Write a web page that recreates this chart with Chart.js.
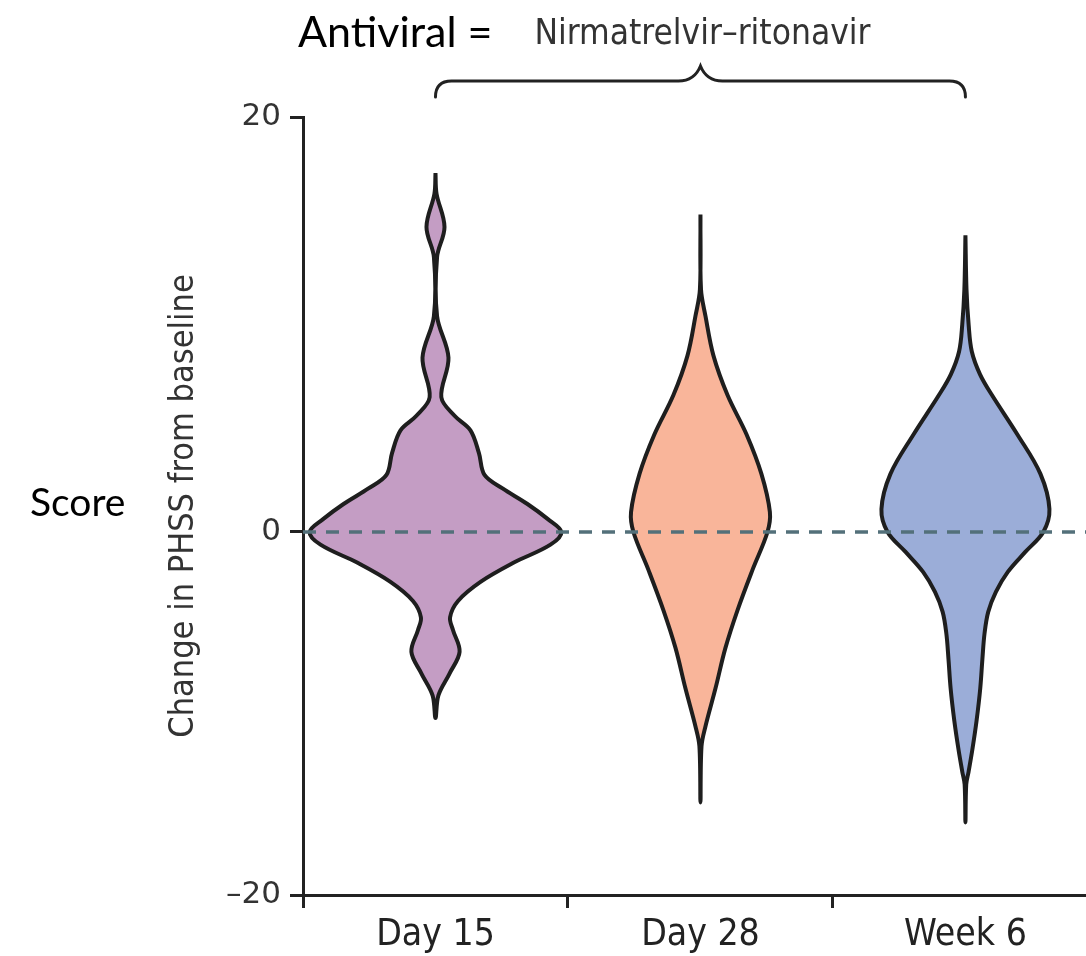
<!DOCTYPE html>
<html>
<head>
<meta charset="utf-8">
<script src="https://cdn.jsdelivr.net/npm/chart.js@4.4.1/dist/chart.umd.min.js"></script>
<style>
  html, body { margin: 0; padding: 0; background: #fff; }
  #wrap { width: 1086px; height: 956px; position: relative; }
</style>
</head>
<body>
<div id="wrap"><canvas id="violin"></canvas></div>
<script>
// x categories and y ticks
const timepoints = ['Day 15', 'Day 28', 'Week 6'];
const yTicks = [-20, 0, 20];

// violin outlines: score level (top -> bottom) and half width at that level (in category units)
const day15Levels = [17.3, 16.3, 14.7, 13.25, 10.4, 8.4, 6.5, 5.6, 4.9, 3.8, 2.75, 2.1, 1.35, 0.63, 0, -0.7, -1.7, -2.75, -3.8, -4.7, -5.4, -6.6, -7.8, -9.0, -10.25];
const day15Half   = [0, 0.004, 0.034, 0.006, 0.006, 0.049, 0.022, 0.072, 0.132, 0.164, 0.185, 0.253, 0.347, 0.423, 0.475, 0.434, 0.294, 0.170, 0.085, 0.055, 0.066, 0.091, 0.053, 0.011, 0];

const day28Levels = [15.3, 11.7, 10.4, 8.5, 6.6, 4.7, 2.8, 0.96, 0, -2.1, -4.3, -6.4, -8.6, -10.7, -11.8, -14.9];
const day28Half   = [0, 0.002, 0.019, 0.049, 0.102, 0.174, 0.230, 0.262, 0.253, 0.196, 0.140, 0.094, 0.057, 0.019, 0.004, 0];

const week6Levels = [14.3, 11.7, 10.0, 8.7, 7.6, 6.6, 4.7, 2.8, 1.1, 0, -1.1, -2.2, -3.3, -4.4, -5.6, -7.0, -8.6, -10.4, -12.0, -13.2, -13.9, -16.0];
const week6Half   = [0, 0.004, 0.012, 0.024, 0.055, 0.100, 0.196, 0.283, 0.317, 0.294, 0.226, 0.160, 0.115, 0.086, 0.072, 0.064, 0.056, 0.042, 0.026, 0.012, 0.003, 0];

const violinColors = ['#C49DC4', '#F9B59A', '#9BADD8'];

// y axis in the figure is not evenly spaced: 0 sits lower than the middle
const zeroFraction = 0.4666;

class SplitScale extends Chart.LinearScale {
    static id = 'split';
    static defaults = Chart.LinearScale.defaults;
    getPixelForValue(value) {
        let d;
        if (value >= 0) {
            d = zeroFraction + (1 - zeroFraction) * value / this.max;
        } else {
            d = zeroFraction * (value - this.min) / (0 - this.min);
        }
        return this.getPixelForDecimal(d);
    }
    getValueForPixel(pixel) {
        const d = this.getDecimalForPixel(pixel);
        if (d >= zeroFraction) {
            return (d - zeroFraction) / (1 - zeroFraction) * this.max;
        }
        return this.min + d / zeroFraction * (0 - this.min);
    }
}
Chart.register(SplitScale);

function outline(center, levels, half) {
    const right = levels.map((y, i) => ({ x: center + half[i], y: y }));
    const left = levels.map((y, i) => ({ x: center - half[i], y: y })).reverse();
    return right.concat(left.slice(1));
}

const narrow = "'Liberation Sans Narrow', 'DejaVu Sans Condensed', 'Liberation Sans', sans-serif";

// brace + extra labels above/left of the plot
const bracePlugin = {
    id: 'brace',
    afterDraw(chart) {
        const ctx = chart.ctx;
        const xs = chart.scales.x;
        const x0 = xs.getPixelForValue(0);
        const x1 = xs.getPixelForValue(1);
        const x2 = xs.getPixelForValue(2);
        ctx.save();
        ctx.strokeStyle = '#222';
        ctx.lineWidth = 3;
        ctx.lineCap = 'round';
        ctx.beginPath();
        ctx.moveTo(x0, 97);
        ctx.quadraticCurveTo(x0, 81, x0 + 16, 81);
        ctx.lineTo(x1 - 22, 81);
        ctx.quadraticCurveTo(x1 - 6, 81, x1, 66);
        ctx.quadraticCurveTo(x1 + 6, 81, x1 + 22, 81);
        ctx.lineTo(x2 - 16, 81);
        ctx.quadraticCurveTo(x2, 81, x2, 97);
        ctx.stroke();

        ctx.fillStyle = '#000';
        ctx.textBaseline = 'middle';
        ctx.textAlign = 'left';
        ctx.font = "43px Lato, 'Open Sans', sans-serif";
        ctx.fillText('Antiviral =', 298, 33);
        ctx.font = "39px Lato, 'Open Sans', sans-serif";
        ctx.fillText('Score', 30, 503);

        ctx.fillStyle = '#333';
        ctx.textAlign = 'center';
        ctx.font = '35px ' + narrow;
        ctx.fillText('Nirmatrelvir\u2013ritonavir', x1 + 2, 35);
        ctx.restore();
    }
};

const datasets = [{
    label: 'zero',
    data: [{ x: -0.5, y: 0 }, { x: 2.455, y: 0 }],
    borderColor: '#53707A',
    borderWidth: 3.5,
    borderDash: [13, 10],
    pointRadius: 0,
    fill: false,
    order: -1
}];

const outlines = [
    outline(0, day15Levels, day15Half),
    outline(1, day28Levels, day28Half),
    outline(2, week6Levels, week6Half)
];

outlines.forEach((pts, i) => {
    datasets.push({
        label: timepoints[i],
        data: pts,
        borderColor: '#1e1e1e',
        borderWidth: 4,
        backgroundColor: violinColors[i],
        fill: 'shape',
        tension: 0.35,
        pointRadius: 0,
        borderJoinStyle: 'round'
    });
});

const ctx = document.getElementById('violin').getContext('2d');

const chart = new Chart(ctx, {
    type: 'line',
    data: { datasets: datasets },
    options: {
        responsive: true,
        maintainAspectRatio: false,
        animation: false,
        layout: { padding: { top: 117, left: 0, right: 0, bottom: 0 } },
        plugins: {
            legend: { display: false },
            tooltip: { enabled: false }
        },
        scales: {
            x: {
                type: 'linear',
                min: -0.5,
                max: 2.455,
                afterFit: function (scale) { scale.height = 61; },
                afterBuildTicks: function (scale) {
                    scale.ticks = timepoints.map((t, i) => ({ value: i }));
                },
                ticks: {
                    callback: function (value) { return timepoints[value]; },
                    font: { family: narrow, size: 37 },
                    color: '#222',
                    padding: 5,
                    autoSkip: false,
                    maxRotation: 0
                },
                grid: {
                    offset: true,
                    drawOnChartArea: false,
                    color: '#222',
                    lineWidth: 3,
                    tickLength: 13
                },
                border: { color: '#222', width: 3 }
            },
            y: {
                type: 'split',
                min: -20,
                max: 20,
                afterFit: function (scale) { scale.width = 303; },
                afterBuildTicks: function (scale) {
                    scale.ticks = yTicks.map(v => ({ value: v }));
                },
                ticks: {
                    callback: function (value) {
                        return value < 0 ? '\u2013' + Math.abs(value) : String(value);
                    },
                    font: { family: "'DejaVu Sans', sans-serif", size: 31 },
                    color: '#333',
                    padding: 9
                },
                grid: {
                    drawOnChartArea: false,
                    color: '#222',
                    lineWidth: 3,
                    tickLength: 13
                },
                border: { color: '#222', width: 3 },
                title: {
                    display: true,
                    text: 'Change in PHSS from baseline',
                    font: { family: narrow, size: 34 },
                    color: '#333',
                    padding: { top: 164, bottom: 0 }
                }
            }
        }
    },
    plugins: [bracePlugin]
});
</script>
</body>
</html>
